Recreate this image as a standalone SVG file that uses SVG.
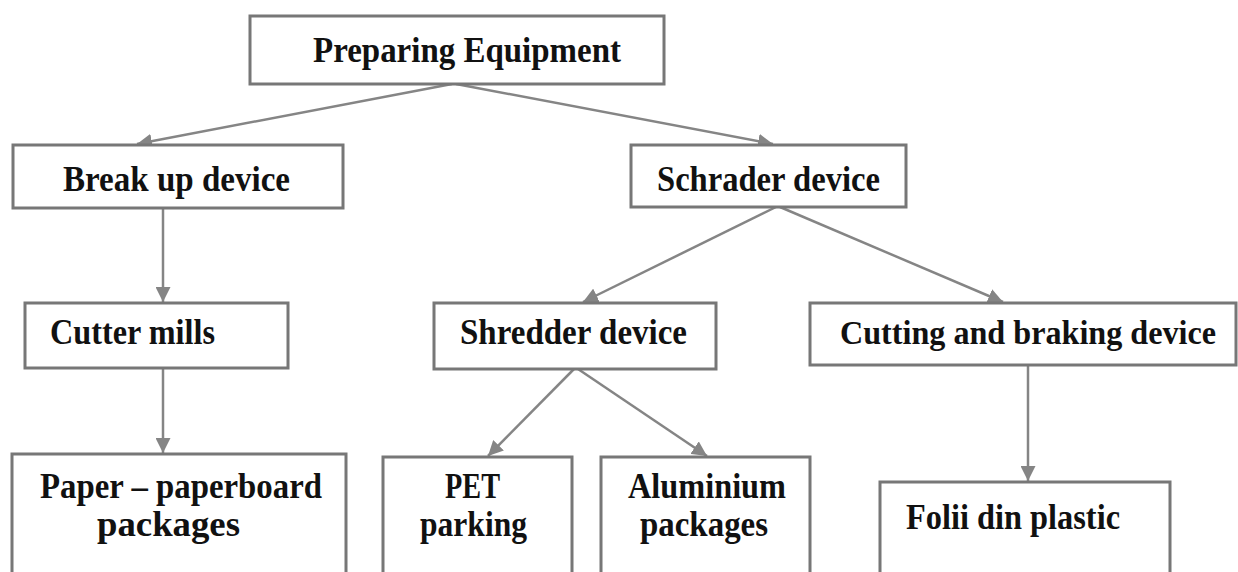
<svg xmlns="http://www.w3.org/2000/svg" width="1238" height="572" viewBox="0 0 1238 572">
  <style>
    .box { fill: #ffffff; stroke: #777777; stroke-width: 3; }
    .lbl { font-family: "Liberation Serif", "Times New Roman", serif; font-weight: bold; font-size: 35px; fill: #111111; }
    .lbl.wide { font-size: 33px; }
    .edge { stroke: #858585; stroke-width: 2.5; fill: none; marker-end: url(#arrow); }
  </style>
  <defs>
    <marker id="arrow" viewBox="0 0 10 10" refX="10" refY="5" markerWidth="15" markerHeight="15" markerUnits="userSpaceOnUse" orient="auto">
      <path d="M0,0 L10,5 L0,10 Z" fill="#858585"/>
    </marker>
  </defs>
  <rect width="1238" height="572" fill="#ffffff"/>

  <!-- connectors -->
  <g id="connectors">
    <line class="edge" x1="452" y1="84" x2="137" y2="144"/>
    <line class="edge" x1="456" y1="84" x2="773" y2="144"/>
    <line class="edge" x1="163" y1="208" x2="163" y2="302"/>
    <line class="edge" x1="163" y1="368" x2="163" y2="453"/>
    <line class="edge" x1="776" y1="207" x2="583" y2="302"/>
    <line class="edge" x1="780" y1="207" x2="1003" y2="302"/>
    <line class="edge" x1="574" y1="369" x2="488" y2="456"/>
    <line class="edge" x1="578" y1="369" x2="707" y2="456"/>
    <line class="edge" x1="1028" y1="365" x2="1028" y2="481"/>
  </g>

  <g id="preparing-equipment">
    <rect class="box" x="250" y="16" width="414" height="68"/>
    <text class="lbl" x="313" y="62" textLength="308" lengthAdjust="spacingAndGlyphs">Preparing Equipment</text>
  </g>

  <g id="break-up-device">
    <rect class="box" x="13" y="145" width="330" height="63"/>
    <text class="lbl" x="63" y="191" textLength="227" lengthAdjust="spacingAndGlyphs">Break up device</text>
  </g>

  <g id="schrader-device">
    <rect class="box" x="631" y="145" width="275" height="62"/>
    <text class="lbl" x="657" y="191" textLength="223" lengthAdjust="spacingAndGlyphs">Schrader device</text>
  </g>

  <g id="cutter-mills">
    <rect class="box" x="25" y="303" width="263" height="65"/>
    <text class="lbl" x="50" y="344" textLength="165" lengthAdjust="spacingAndGlyphs">Cutter mills</text>
  </g>

  <g id="shredder-device">
    <rect class="box" x="434" y="303" width="282" height="66"/>
    <text class="lbl" x="460" y="344" textLength="227" lengthAdjust="spacingAndGlyphs">Shredder device</text>
  </g>

  <g id="cutting-braking-device">
    <rect class="box" x="810" y="303" width="426" height="62"/>
    <text class="lbl wide" x="840" y="344" textLength="376" lengthAdjust="spacingAndGlyphs">Cutting and braking device</text>
  </g>

  <g id="paper-packages">
    <rect class="box" x="12" y="454" width="334" height="130"/>
    <text class="lbl" x="40" y="498" textLength="282" lengthAdjust="spacingAndGlyphs">Paper – paperboard</text>
    <text class="lbl" x="97" y="536" textLength="143" lengthAdjust="spacingAndGlyphs">packages</text>
  </g>

  <g id="pet-parking">
    <rect class="box" x="383" y="457" width="189" height="130"/>
    <text class="lbl" x="445" y="498" textLength="55" lengthAdjust="spacingAndGlyphs">PET</text>
    <text class="lbl" x="420" y="536" textLength="107" lengthAdjust="spacingAndGlyphs">parking</text>
  </g>

  <g id="aluminium-packages">
    <rect class="box" x="601" y="457" width="209" height="130"/>
    <text class="lbl" x="628" y="498" textLength="158" lengthAdjust="spacingAndGlyphs">Aluminium</text>
    <text class="lbl" x="640" y="536" textLength="128" lengthAdjust="spacingAndGlyphs">packages</text>
  </g>

  <g id="folii-din-plastic">
    <rect class="box" x="880" y="482" width="290" height="110"/>
    <text class="lbl" x="906" y="529" textLength="214" lengthAdjust="spacingAndGlyphs">Folii din plastic</text>
  </g>
</svg>
